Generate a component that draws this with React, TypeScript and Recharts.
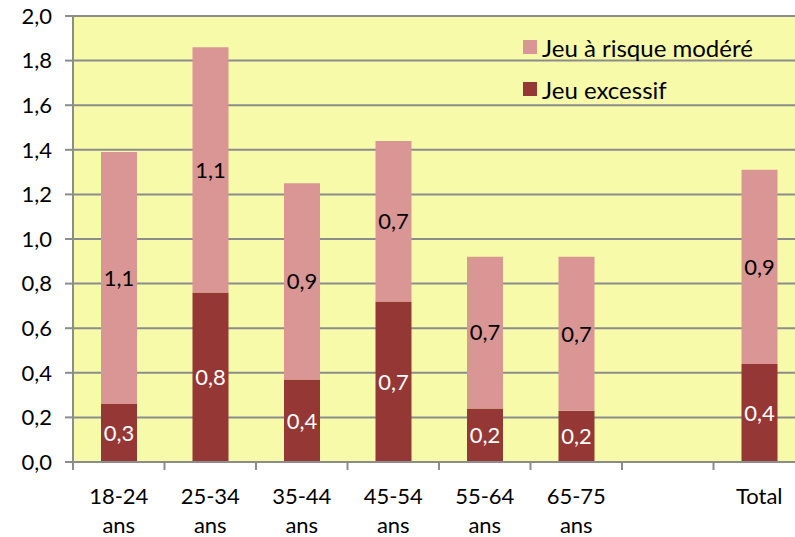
import { Bar, BarChart, CartesianGrid, LabelList, XAxis, YAxis } from 'recharts';

const categories = ['18-24 ans', '25-34 ans', '35-44 ans', '45-54 ans', '55-64 ans', '65-75 ans', ' ', 'Total'];
const excessif = [0.26, 0.76, 0.37, 0.72, 0.24, 0.23, null, 0.44];
const modere = [1.13, 1.1, 0.88, 0.72, 0.68, 0.69, null, 0.87];
const yTicks = [0, 0.2, 0.4, 0.6, 0.8, 1.0, 1.2, 1.4, 1.6, 1.8, 2.0];
const slotTicks = [0, 1, 2, 3, 4, 5, 6, 7, 8];
const legendItems = [
  { label: 'Jeu à risque modéré', key: 'modere' },
  { label: 'Jeu excessif', key: 'excessif' },
];

const data = categories.map((name, i) => ({
  name,
  excessif: excessif[i],
  modere: modere[i],
  slot: i + 0.5,
}));

const FONT = 'Lato, "Open Sans", sans-serif';
const DARK = '#953735';
const PINK = '#D99694';
const GRID = '#8c8c8c';
const COLORS: Record<string, string> = { modere: PINK, excessif: DARK };

const fmt = (v: any) => (v == null ? '' : Number(v).toFixed(1).replace('.', ','));

function CatTick({ x, y, payload }: any) {
  const parts = String(payload.value).trim().split(' ');
  return (
    <text x={x} y={y} textAnchor="middle" fill="#000" fontSize={22} fontFamily={FONT}>
      {parts.map((p, i) => (
        <tspan key={i} x={x} dy={i === 0 ? 33 : 29}>
          {p}
        </tspan>
      ))}
    </text>
  );
}

// category boundary ticks, drawn from the number axis below the plot
function SlotTick({ x, y }: any) {
  return <line x1={x} x2={x} y1={y} y2={y + 8} stroke={GRID} strokeWidth={2} />;
}

export default function App() {
  return (
    <div style={{ position: 'absolute', left: 0, top: 0, width: 795, height: 537, overflow: 'hidden', background: '#fff' }}>
      <BarChart width={820} height={537} data={data} margin={{ top: 16, right: 15, bottom: 0, left: 0 }} barSize={36}>
        <CartesianGrid vertical={false} xAxisId="b" stroke={GRID} strokeWidth={2} fill="#F7FAA9" fillOpacity={1} />
        <XAxis xAxisId="b" dataKey="name" axisLine={false} tickLine={false} tick={<CatTick />} interval={0} height={74} />
        <XAxis xAxisId="a" type="number" dataKey="slot" domain={[0, 8]} ticks={slotTicks} tick={<SlotTick />}
          axisLine={{ stroke: GRID, strokeWidth: 2 }} tickLine={false} tickSize={0} tickMargin={0} height={1} />
        <YAxis domain={[0, 2]} ticks={yTicks} tickFormatter={fmt} width={73} tickSize={8} tickMargin={13}
          axisLine={{ stroke: GRID, strokeWidth: 2 }} tickLine={{ stroke: GRID, strokeWidth: 2 }}
          tick={{ fill: '#000', fontSize: 22, fontFamily: FONT }} interval={0} />
        <Bar xAxisId="b" dataKey="excessif" name="Jeu excessif" stackId="a" fill={DARK} isAnimationActive={false}>
          <LabelList dataKey="excessif" position="center" formatter={fmt} fill="#fff" fontSize={22} fontFamily={FONT} />
        </Bar>
        <Bar xAxisId="b" dataKey="modere" name="Jeu à risque modéré" stackId="a" fill={PINK} isAnimationActive={false}>
          <LabelList dataKey="modere" position="center" formatter={fmt} fill="#000" fontSize={22} fontFamily={FONT} />
        </Bar>
      </BarChart>
      <div style={{ position: 'absolute', left: 523, top: 26, fontFamily: FONT, fontSize: 24, color: '#000' }}>
        {legendItems.map((it) => (
          <div key={it.key} style={{ display: 'flex', alignItems: 'center', height: 42 }}>
            <span style={{ width: 14, height: 14, background: COLORS[it.key], marginRight: 5, display: 'inline-block' }} />
            <span>{it.label}</span>
          </div>
        ))}
      </div>
    </div>
  );
}
